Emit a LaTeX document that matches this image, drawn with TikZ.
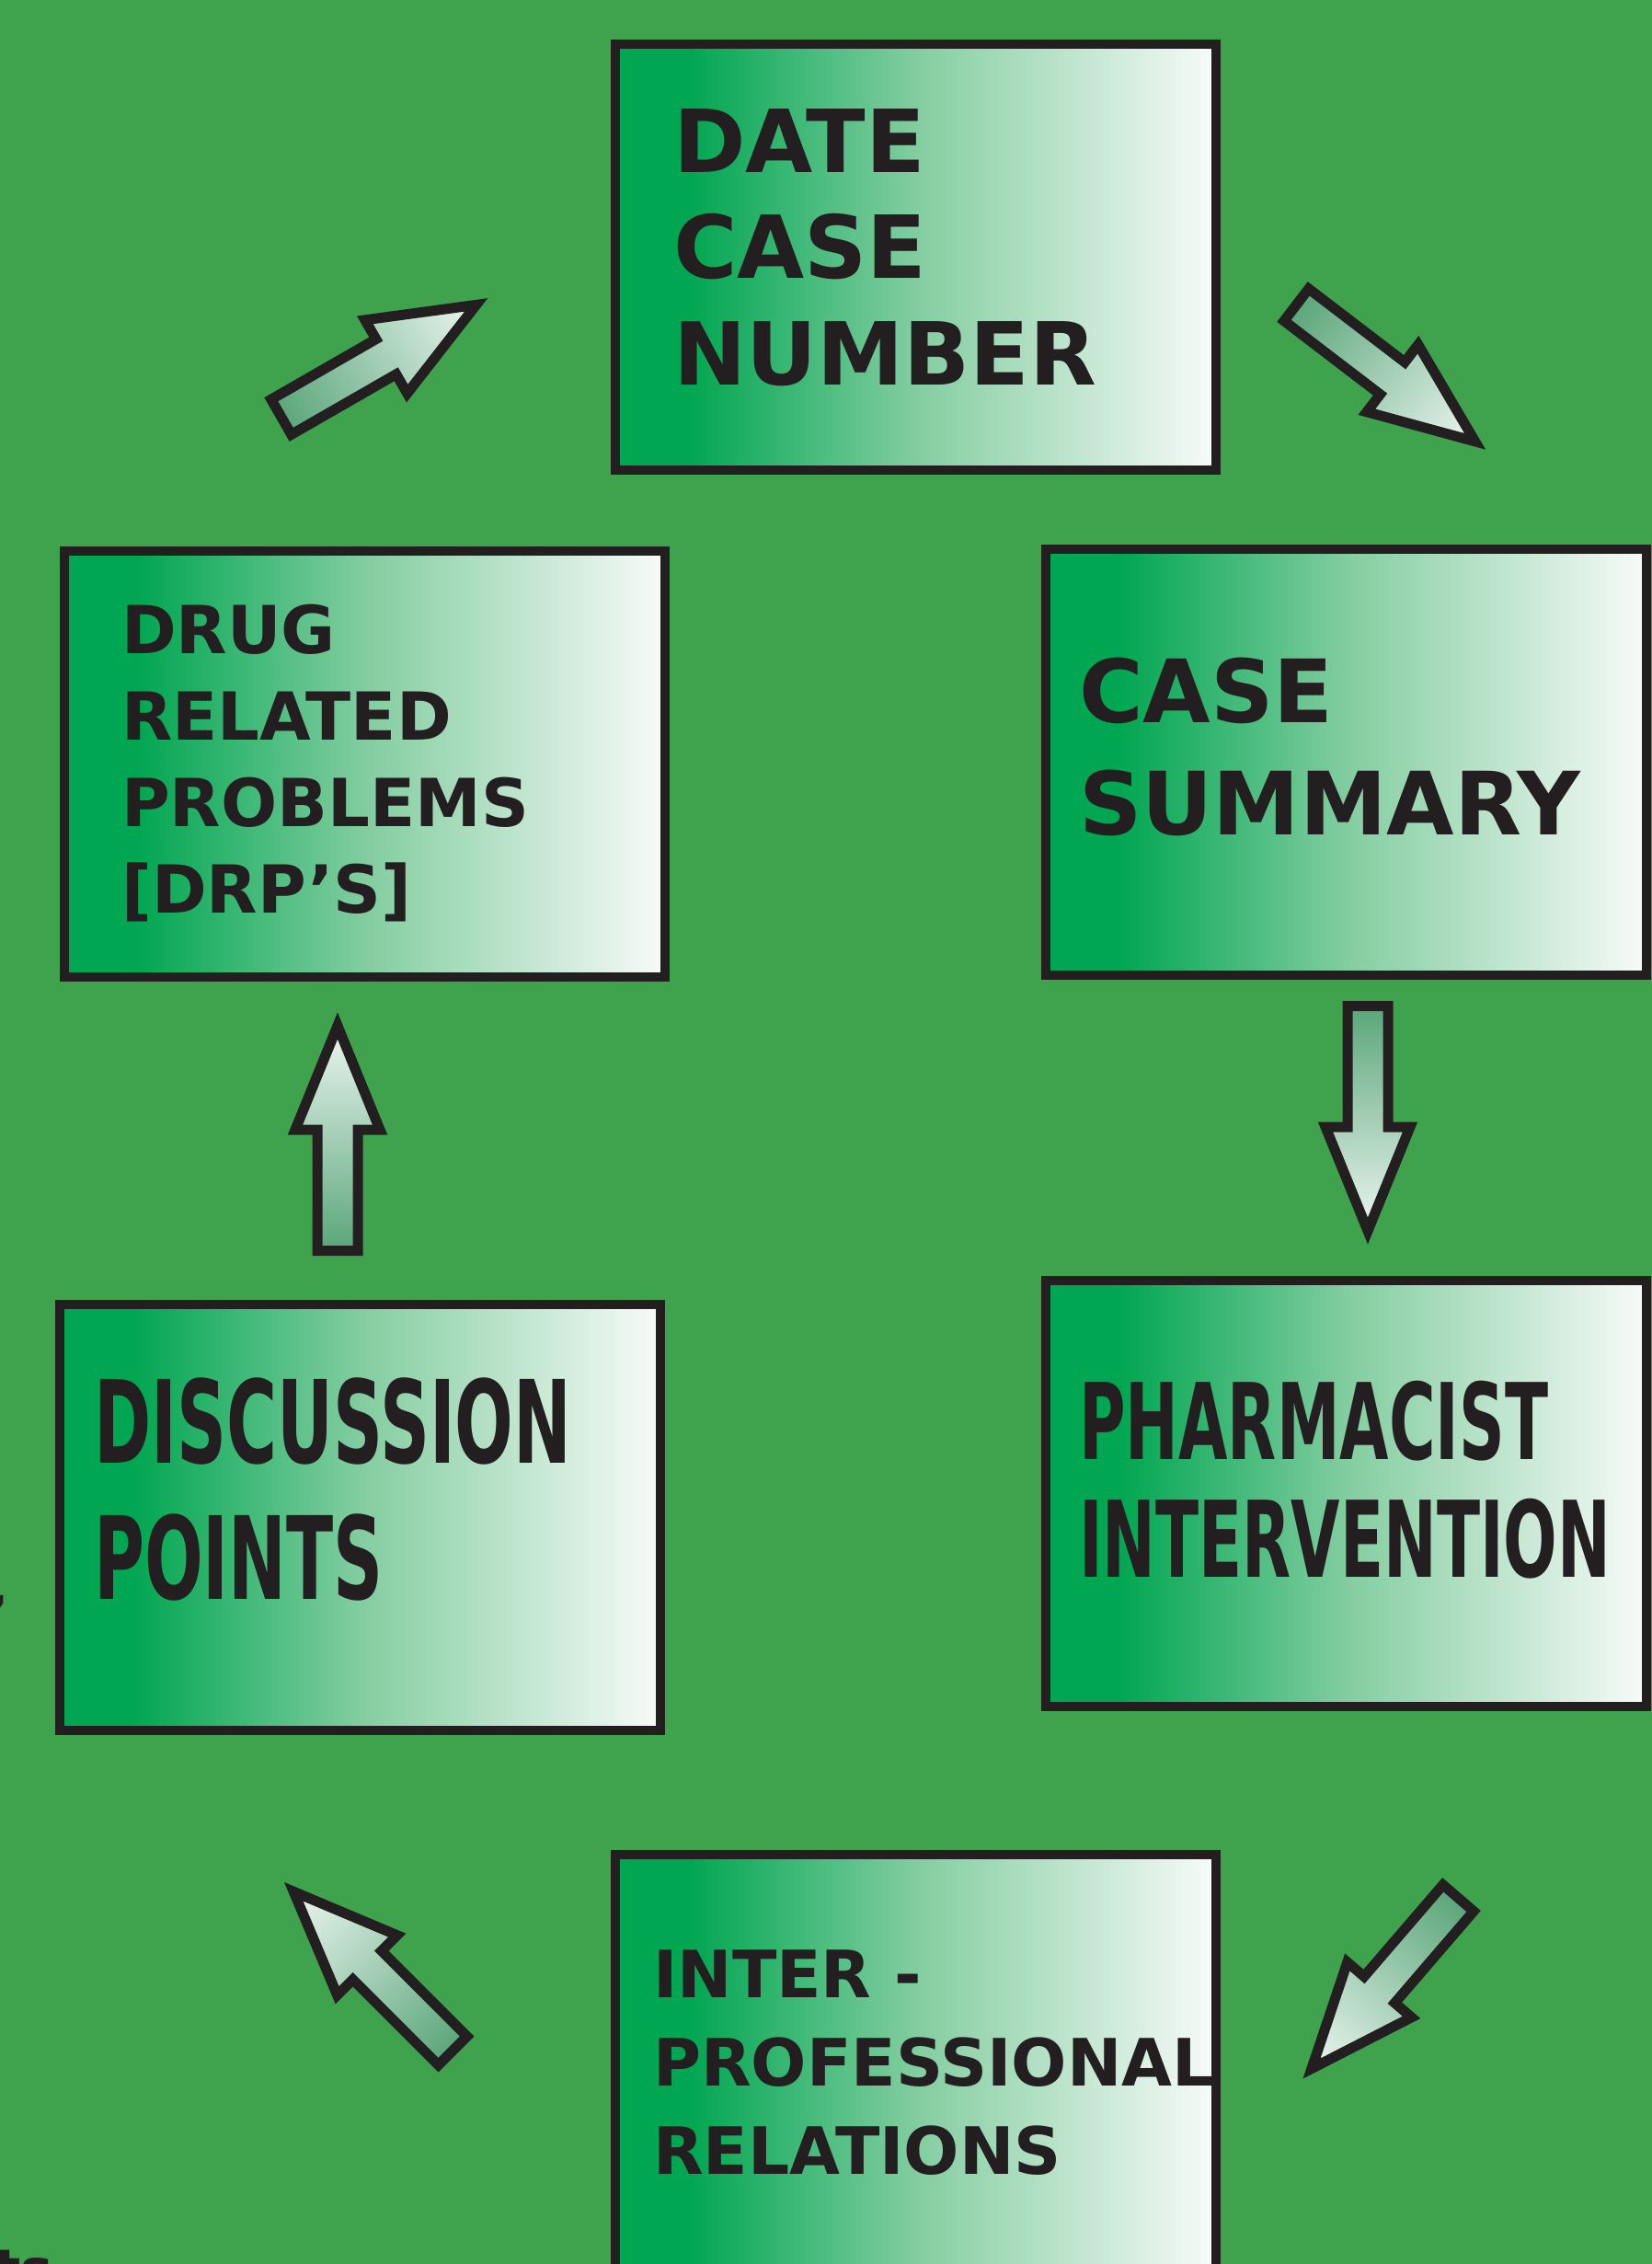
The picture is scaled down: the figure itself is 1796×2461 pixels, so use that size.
\documentclass[tikz,border=0pt]{standalone}
\usepackage{fontspec}
\setmainfont{DejaVu Sans}
\newfontfamily\condfont[FakeStretch=0.6]{DejaVu Sans}
\definecolor{bg}{RGB}{63,163,77}
\definecolor{ink}{RGB}{35,31,32}
\definecolor{boxgreen}{RGB}{0,166,81}
\definecolor{boxmid}{RGB}{130,205,160}
\definecolor{boxlight}{RGB}{248,251,249}
\definecolor{arrdark}{RGB}{90,166,122}
\definecolor{arrlight}{RGB}{236,246,240}
\pgfdeclarehorizontalshading{boxshade}{100bp}{color(0bp)=(boxgreen); color(25bp)=(boxgreen); color(31bp)=(boxgreen); color(50bp)=(boxmid); color(75bp)=(boxlight); color(100bp)=(boxlight)}
\tikzset{
  card/.style={draw=ink, line width=10pt, shade, shading=boxshade, shading angle=0,
    minimum width=653pt, minimum height=463pt, inner sep=0pt, anchor=north west},
  lbl/.style={anchor=base west, inner sep=0pt, text=ink},
  blockarrowstyle/.style={draw=ink, line width=11pt, line join=miter, left color=arrdark, right color=arrlight}
}
\newcommand\blockarrow[3]{%
  \begin{scope}[transform canvas={shift={(#1,#2)},rotate=#3}]
    \shadedraw[blockarrowstyle]
      (5.5,-22) -- (137,-22) -- (137,-46) -- (250,0) -- (137,46) -- (137,22) -- (5.5,22) -- cycle;
  \end{scope}}
\begin{document}
\begin{tikzpicture}[x=1pt,y=-1pt]
\useasboundingbox (0,0) rectangle (1796,2461);
\fill[bg] (0,0) rectangle (1796,2461);

% boxes
\node[card] (top) at (664,43) {};
\node[card] (drug) at (65,594) {};
\node[card] (summary) at (1132,592) {};
\node[card] (discuss) at (60,1413) {};
\node[card] (pharm) at (1132,1387) {};
\node[card, minimum height=480pt] (inter) at (664,2011) {};

% texts
\node[lbl, font=\fontsize{94.6}{115.5}\selectfont\bfseries] (ttop) at (732,187)
  {\begin{tabular}[t]{@{}l@{}}DATE\\CASE\\NUMBER\end{tabular}};
\node[lbl, font=\fontsize{72}{94}\selectfont\bfseries] (tdrug) at (132,710)
  {\begin{tabular}[t]{@{}l@{}}DRUG\\RELATED\\PROBLEMS\\{[DRP’S]}\end{tabular}};
\node[lbl, font=\fontsize{95}{122}\selectfont\bfseries] (tsummary) at (1173,785)
  {\begin{tabular}[t]{@{}l@{}}CASE\\SUMMARY\end{tabular}};
\node[lbl, font=\fontsize{125}{148}\selectfont\condfont\bfseries] (tdiscuss) at (102,1590)
  {\begin{tabular}[t]{@{}l@{}}DISCUSSION\\POINTS\end{tabular}};
\node[lbl, font=\fontsize{115}{128.5}\selectfont\condfont\bfseries] (tpharm) at (1173,1586)
  {\begin{tabular}[t]{@{}l@{}}PHARMACIST\\INTERVENTION\end{tabular}};
\node[lbl, font=\fontsize{71}{96}\selectfont\bfseries] (tinter) at (710,2171)
  {\begin{tabular}[t]{@{}l@{}}INTER -\\PROFESSIONAL\\RELATIONS\end{tabular}};

% cut-off fragments at the left edge
\node[anchor=base east, inner sep=0pt, text=ink, font=\fontsize{59}{59}\selectfont\bfseries] (frag1) at (10,1745) {,};
\node[lbl, font=\fontsize{59}{59}\selectfont\bfseries] (frag2) at (-6,2487) {ts};

% block arrows
\blockarrow{301}{456}{29.9}
\blockarrow{1405}{328}{-37.4}
\blockarrow{1487}{1088}{-90}
\blockarrow{367}{1365}{90}
\blockarrow{496}{2233}{135}
\blockarrow{1589}{2059}{229.3}
\end{tikzpicture}
\end{document}
